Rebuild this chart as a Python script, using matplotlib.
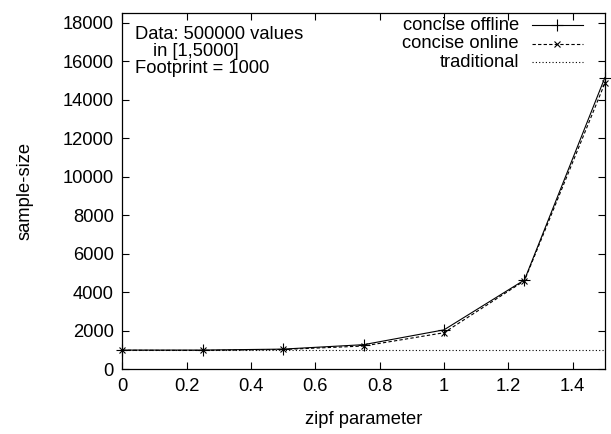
import matplotlib.pyplot as plt

# -------------------------------
# DATA
# -------------------------------
zipf = [0, 0.25, 0.5, 0.75, 1.0, 1.25, 1.5]
concise_offline = [1000, 1000, 1050, 1280, 2050, 4640, 15150]
concise_online = [990, 980, 1030, 1210, 1900, 4600, 14860]
traditional = [1000, 1000, 1000, 1000, 1000, 1000, 1000]

y_ticks = [0, 2000, 4000, 6000, 8000, 10000, 12000, 14000, 16000, 18000]
x_ticks = [0, 0.2, 0.4, 0.6, 0.8, 1.0, 1.2, 1.4]
x_tick_labels = ["0", "0.2", "0.4", "0.6", "0.8", "1", "1.2", "1.4"]

plt.rcParams['font.family'] = ['Liberation Sans', 'DejaVu Sans']
FS = 13.2

fig = plt.figure(figsize=(6.11, 4.34), dpi=100)
ax = fig.add_axes([0.2, 0.149, 0.79, 0.821])

series = [
    ("concise offline", concise_offline, dict(ls='-', marker='+', ms=8)),
    ("concise online", concise_online, dict(ls=(0, (3, 2)), marker='x', ms=5)),
    ("traditional", traditional, dict(ls=(0, (1, 2)), marker=None)),
]

for name, vals, st in series:
    ax.plot(zipf, vals, color='black', lw=0.8, mew=0.8, clip_on=False, **st)

ax.set_xlim(0, 1.5)
ax.set_ylim(0, 18500)
ax.set_xticks(x_ticks)
ax.set_xticklabels(x_tick_labels)
ax.set_yticks(y_ticks)
ax.tick_params(direction='in', top=True, right=True, labelsize=FS, length=5, width=0.8, pad=6)
for s in ax.spines.values():
    s.set_linewidth(0.9)

ax.set_xlabel("zipf parameter", fontsize=FS, labelpad=12)
ax.set_ylabel("sample-size", fontsize=FS, labelpad=21)

# gnuplot-style key: text right aligned, sample on the right
key_y = [0.966, 0.914, 0.862]
for (name, vals, st), yy in zip(series, key_y):
    ax.text(0.822, yy, name, transform=ax.transAxes, ha='right', va='center', fontsize=FS)
    ax.plot([0.849, 0.954], [yy, yy], transform=ax.transAxes, color='black', lw=0.8,
            ls=st['ls'], clip_on=False)
    if st['marker']:
        ax.plot([0.9015], [yy], transform=ax.transAxes, color='black', ls='none',
                marker=st['marker'], ms=st['ms'], mew=0.8, clip_on=False)

# info box
ax.text(0.027, 0.94, "Data: 500000 values", transform=ax.transAxes, va='center', fontsize=FS)
ax.text(0.064, 0.892, "in [1,5000]", transform=ax.transAxes, va='center', fontsize=FS)
ax.text(0.027, 0.844, "Footprint = 1000", transform=ax.transAxes, va='center', fontsize=FS)

plt.savefig("out.png", dpi=100)
plt.close()
